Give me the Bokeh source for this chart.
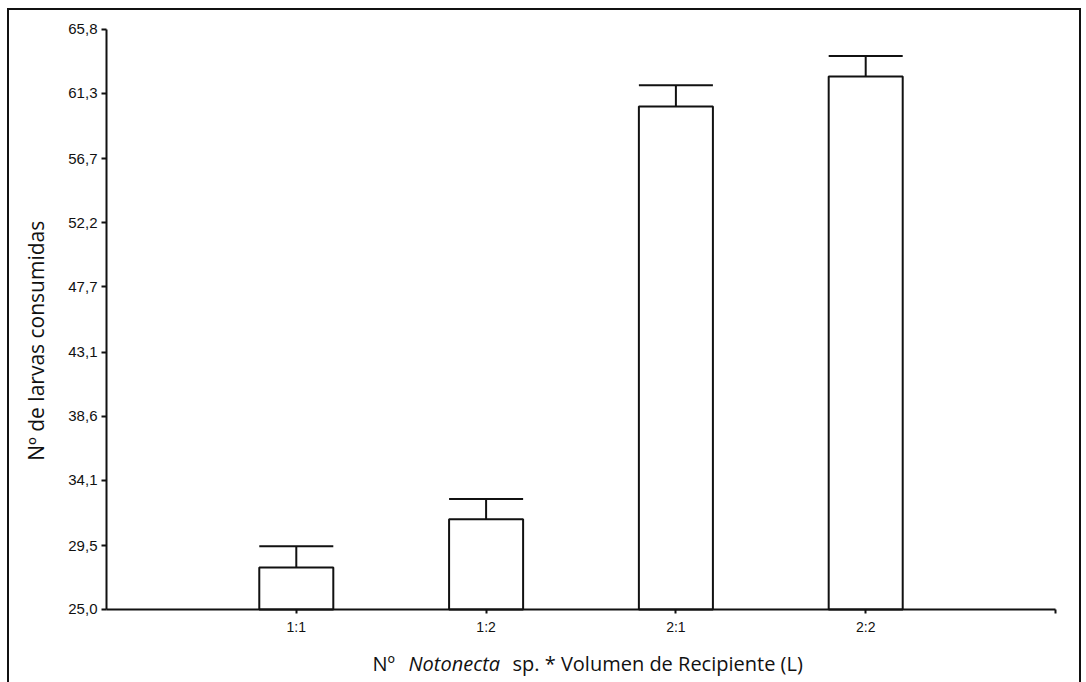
import math
from bokeh.plotting import figure
from bokeh.models import Range1d, FixedTicker, LinearAxis
from bokeh.core.properties import value
from bokeh.embed import file_html
from bokeh.resources import INLINE

categories = ["1:1", "1:2", "2:1", "2:2"]
means = [27.95, 31.35, 60.39, 62.5]
errors = [1.5, 1.43, 1.48, 1.43]
y_ticks = [25.0, 29.5, 34.1, 38.6, 43.1, 47.7, 52.2, 56.7, 61.3, 65.8]
y_min, y_max = 25.0, 65.8
x_title = [("Nº ", "normal"), ("Notonecta", "italic"), ("sp. * Volumen de Recipiente (L)", "normal")]
y_title = "Nº de larvas consumidas"

xs = list(range(1, len(categories) + 1))
x_end = len(categories) + 1
tops = [m + e for m, e in zip(means, errors)]
bar_w = 0.39
FONT = "Open Sans"

# canvas 1074x680; axes drawn at fixed data locations inside the frame
p = figure(width=1074, height=680, output_backend="svg", toolbar_location=None,
           x_range=Range1d(-0.511, 5.1475), y_range=Range1d(19.302, 67.136),
           min_border=0,
           styles={"position": "absolute", "left": "7px", "top": "8px",
                   "border": "2px solid #111"})
p.outline_line_color = None
p.xaxis.visible = False
p.yaxis.visible = False
p.xgrid.visible = False
p.ygrid.visible = False
p.background_fill_color = "white"
p.border_fill_color = "white"

p.vbar(x=xs, top=means, bottom=y_min, width=bar_w, fill_color="white",
       line_color="#111", line_width=2)
p.segment(x0=xs, y0=means, x1=xs, y1=tops, line_color="#111", line_width=2)
p.segment(x0=[x - bar_w / 2 for x in xs], y0=tops, x1=[x + bar_w / 2 for x in xs], y1=tops,
          line_color="#111", line_width=2)

# y axis
ya = LinearAxis(fixed_location=0, bounds=(y_min, y_max))
ya.ticker = FixedTicker(ticks=y_ticks)
ya.major_label_overrides = {t: f"{t:.1f}".replace(".", ",") for t in y_ticks}
ya.axis_line_width = 2
ya.axis_line_color = "#111"
ya.major_tick_line_color = "#111"
ya.major_tick_line_width = 2
ya.major_tick_out = 5
ya.major_tick_in = 0
ya.minor_tick_line_color = None
ya.major_label_standoff = 4
ya.major_label_text_font = "Liberation Sans"
ya.major_label_text_font_size = "15px"
ya.major_label_text_color = "#111"
p.add_layout(ya, "left")

# x axis
xa = LinearAxis(fixed_location=y_min, bounds=(0, x_end))
xa.ticker = FixedTicker(ticks=xs + [x_end])
overrides = {x: c for x, c in zip(xs, categories)}
overrides[x_end] = ""
xa.major_label_overrides = overrides
xa.axis_line_width = 2
xa.axis_line_color = "#111"
xa.major_tick_line_color = "#111"
xa.major_tick_line_width = 2
xa.major_tick_out = 4
xa.major_tick_in = 0
xa.minor_tick_line_color = None
xa.major_label_standoff = 6
xa.major_label_text_font = "Liberation Sans"
xa.major_label_text_font_size = "14px"
xa.major_label_text_color = "#111"
p.add_layout(xa, "below")

# x axis title, genus name in italics
title_x = [1.4015, 1.591, 2.139]
for (txt, style), tx in zip(x_title, title_x):
    p.text(x=[tx], y=[21.2], text=[txt], text_font=value(FONT),
           text_font_style=style, text_font_size="20px", text_color="#111",
           text_baseline="alphabetic", text_align="left")

# y axis title
p.text(x=[-0.374], y=[43.9], text=[y_title], angle=math.pi / 2,
       text_font=value(FONT), text_font_size="21px", text_color="#111",
       text_baseline="middle", text_align="center")

open("out.html", "w").write(file_html(p, INLINE))
